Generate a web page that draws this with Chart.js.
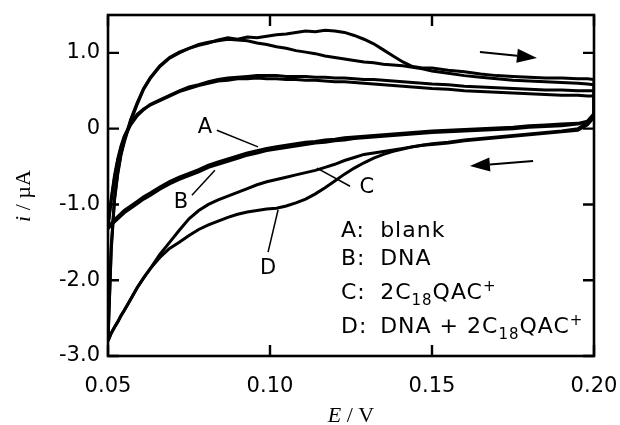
<!DOCTYPE html>
<html>
<head>
<meta charset="utf-8">
<script src="https://cdn.jsdelivr.net/npm/chart.js@4.4.0/dist/chart.umd.min.js"></script>
<style>
  html, body { margin: 0; padding: 0; background: #fff; }
</style>
</head>
<body>
<canvas id="cvChart" width="620" height="425"></canvas>
<script>
// potential grid (V), shared by forward and reverse sweeps
const potential = [0.050, 0.051, 0.052, 0.053, 0.054, 0.055, 0.057, 0.059, 0.061, 0.063,
  0.066, 0.069, 0.072, 0.075, 0.078, 0.081, 0.084, 0.087, 0.090, 0.093,
  0.096, 0.099, 0.102, 0.105, 0.108, 0.111, 0.114, 0.117, 0.120, 0.123,
  0.126, 0.129, 0.132, 0.135, 0.138, 0.141, 0.144, 0.147, 0.150, 0.155,
  0.160, 0.165, 0.170, 0.175, 0.180, 0.185, 0.190, 0.195, 0.198, 0.200];

// current (uA), forward sweep (0.05 -> 0.20)
const blankFwd = [-1.30, -0.95, -0.65, -0.42, -0.25, -0.12, 0.05, 0.17, 0.25, 0.32,
  0.38, 0.44, 0.50, 0.55, 0.58, 0.62, 0.65, 0.67, 0.68, 0.69,
  0.70, 0.70, 0.70, 0.69, 0.69, 0.69, 0.68, 0.68, 0.67, 0.67,
  0.66, 0.65, 0.65, 0.64, 0.63, 0.62, 0.61, 0.60, 0.59, 0.58,
  0.56, 0.55, 0.54, 0.53, 0.52, 0.51, 0.51, 0.50, 0.50, 0.50];
const dnaFwd = [-1.28, -0.92, -0.62, -0.40, -0.23, -0.10, 0.07, 0.19, 0.26, 0.31,
  0.37, 0.43, 0.49, 0.53, 0.57, 0.60, 0.63, 0.64, 0.66, 0.66,
  0.67, 0.66, 0.66, 0.65, 0.65, 0.64, 0.64, 0.63, 0.62, 0.62,
  0.61, 0.60, 0.59, 0.58, 0.57, 0.56, 0.55, 0.54, 0.53, 0.52,
  0.50, 0.49, 0.48, 0.47, 0.46, 0.45, 0.44, 0.44, 0.43, 0.43];
const qacFwd = [-2.78, -1.55, -0.92, -0.58, -0.33, -0.16, 0.12, 0.34, 0.53, 0.67,
  0.83, 0.94, 1.01, 1.06, 1.11, 1.14, 1.16, 1.18, 1.17, 1.16,
  1.13, 1.11, 1.08, 1.06, 1.03, 1.01, 0.99, 0.96, 0.94, 0.92,
  0.90, 0.88, 0.87, 0.85, 0.84, 0.83, 0.81, 0.79, 0.76, 0.73,
  0.70, 0.68, 0.66, 0.64, 0.63, 0.62, 0.61, 0.60, 0.59, 0.58];
const dnaQacFwd = [-2.80, -1.60, -0.95, -0.60, -0.35, -0.18, 0.10, 0.32, 0.52, 0.66,
  0.82, 0.93, 1.00, 1.06, 1.10, 1.13, 1.17, 1.20, 1.18, 1.21,
  1.20, 1.22, 1.24, 1.25, 1.27, 1.29, 1.28, 1.30, 1.29, 1.27,
  1.23, 1.18, 1.12, 1.04, 0.96, 0.88, 0.82, 0.80, 0.80, 0.77,
  0.75, 0.72, 0.70, 0.69, 0.68, 0.67, 0.67, 0.66, 0.66, 0.65];

// current (uA), reverse sweep, listed in the same potential order
const blankRev = [-1.30, -1.25, -1.20, -1.16, -1.12, -1.08, -1.02, -0.96, -0.90, -0.85,
  -0.77, -0.70, -0.64, -0.59, -0.54, -0.48, -0.44, -0.40, -0.36, -0.32,
  -0.29, -0.26, -0.24, -0.22, -0.20, -0.18, -0.17, -0.15, -0.14, -0.12,
  -0.11, -0.10, -0.09, -0.08, -0.07, -0.06, -0.05, -0.04, -0.03, -0.02,
  -0.01, 0.00, 0.01, 0.02, 0.04, 0.05, 0.06, 0.07, 0.10, 0.20];
const dnaRev = [-1.32, -1.27, -1.23, -1.19, -1.15, -1.11, -1.05, -0.99, -0.93, -0.88,
  -0.80, -0.73, -0.67, -0.62, -0.57, -0.51, -0.47, -0.43, -0.39, -0.35,
  -0.32, -0.29, -0.27, -0.25, -0.23, -0.21, -0.19, -0.18, -0.16, -0.15,
  -0.13, -0.12, -0.11, -0.10, -0.09, -0.08, -0.07, -0.06, -0.05, -0.04,
  -0.03, -0.02, -0.01, 0.00, 0.02, 0.03, 0.04, 0.06, 0.09, 0.18];
const qacRev = [-2.80, -2.70, -2.62, -2.55, -2.47, -2.40, -2.25, -2.10, -1.97, -1.85,
  -1.66, -1.50, -1.34, -1.19, -1.08, -1.00, -0.94, -0.89, -0.84, -0.79,
  -0.74, -0.70, -0.67, -0.64, -0.61, -0.58, -0.55, -0.51, -0.47, -0.42,
  -0.38, -0.34, -0.32, -0.30, -0.28, -0.26, -0.24, -0.22, -0.21, -0.19,
  -0.16, -0.14, -0.12, -0.10, -0.08, -0.06, -0.04, -0.02, 0.05, 0.15];
const dnaQacRev = [-2.80, -2.70, -2.62, -2.55, -2.47, -2.40, -2.25, -2.10, -1.97, -1.85,
  -1.70, -1.58, -1.50, -1.41, -1.33, -1.27, -1.22, -1.17, -1.13, -1.10,
  -1.08, -1.06, -1.05, -1.02, -0.98, -0.93, -0.86, -0.78, -0.69, -0.60,
  -0.52, -0.45, -0.39, -0.34, -0.30, -0.27, -0.24, -0.22, -0.20, -0.18,
  -0.15, -0.13, -0.11, -0.09, -0.07, -0.05, -0.03, 0.00, 0.08, 0.18];

const xTicks = [0.05, 0.10, 0.15, 0.20];
const xTickLabels = ['0.05', '0.10', '0.15', '0.20'];
const yTicks = [-3, -2, -1, 0, 1];
const yTickLabels = ['-3.0', '-2.0', '-1.0', '0', '1.0'];

// curve labels A-D with pointer lines (in E / i units)
const curveLetters = ['A', 'B', 'C', 'D'];
const letterAt = [[0.0799, 0.01], [0.0725, -0.98], [0.1299, -0.78], [0.0994, -1.84]];
const pointerFrom = [[0.0836, -0.02], [0.0759, -0.88], [0.1247, -0.76], [0.0994, -1.63]];
const pointerTo = [[0.0963, -0.24], [0.0830, -0.55], [0.1145, -0.52], [0.1025, -1.07]];

// key text
const keyLetters = ['A:', 'B:', 'C:', 'D:'];
const keyNames = [
  [['blank']],
  [['DNA']],
  [['2C'], ['18', 'sub'], ['QAC'], ['+', 'sup']],
  [['DNA + 2C'], ['18', 'sub'], ['QAC'], ['+', 'sup']]
];
const keyRows = [-1.43, -1.80, -2.25, -2.70];

// sweep direction arrows [fromE, fromI, toE, toI]
const sweepArrows = [[0.1648, 1.013, 0.1824, 0.934], [0.1812, -0.427, 0.1617, -0.493]];

function loop(fwd, rev) {
  const pts = potential.map((e, i) => ({ x: e, y: fwd[i] }));
  for (let i = potential.length - 1; i >= 0; i--) pts.push({ x: potential[i], y: rev[i] });
  return pts;
}

function curve(label, fwd, rev) {
  return {
    label: label,
    data: loop(fwd, rev),
    showLine: true,
    borderColor: '#000',
    borderWidth: 3,
    pointRadius: 0,
    tension: 0,
    fill: false
  };
}

const SANS = '"DejaVu Sans", sans-serif';
const SERIF = '"Liberation Serif", serif';

function richText(ctx, x, y, parts, size) {
  parts.forEach(p => {
    const kind = p[1];
    const sz = kind ? Math.round(size * 0.7) : size;
    ctx.font = sz + 'px ' + SANS;
    let dy = 0;
    if (kind === 'sub') dy = size * 0.25;
    if (kind === 'sup') dy = -size * 0.38;
    ctx.fillText(p[0], x, y + dy);
    x += ctx.measureText(p[0]).width;
  });
}

function arrow(ctx, x1, y1, x2, y2) {
  const ang = Math.atan2(y2 - y1, x2 - x1);
  const len = 20, half = 7;
  const bx = x2 - len * Math.cos(ang), by = y2 - len * Math.sin(ang);
  ctx.beginPath();
  ctx.moveTo(x1, y1);
  ctx.lineTo(bx, by);
  ctx.stroke();
  ctx.beginPath();
  ctx.moveTo(x2, y2);
  ctx.lineTo(bx + half * Math.sin(ang), by - half * Math.cos(ang));
  ctx.lineTo(bx - half * Math.sin(ang), by + half * Math.cos(ang));
  ctx.closePath();
  ctx.fill();
}

const decor = {
  id: 'decor',
  afterDraw(chart) {
    const ctx = chart.ctx;
    const a = chart.chartArea;
    const xs = chart.scales.x, ys = chart.scales.y;
    ctx.save();
    ctx.strokeStyle = '#000';
    ctx.fillStyle = '#000';

    // frame
    ctx.lineWidth = 2.6;
    ctx.strokeRect(a.left, a.top, a.right - a.left, a.bottom - a.top);

    // inward ticks on all four sides
    const tl = 11;
    ctx.lineWidth = 2.4;
    ctx.beginPath();
    xTicks.forEach(v => {
      const px = xs.getPixelForValue(v);
      ctx.moveTo(px, a.bottom); ctx.lineTo(px, a.bottom - tl);
      ctx.moveTo(px, a.top); ctx.lineTo(px, a.top + tl);
    });
    yTicks.forEach(v => {
      const py = ys.getPixelForValue(v);
      ctx.moveTo(a.left, py); ctx.lineTo(a.left + tl, py);
      ctx.moveTo(a.right, py); ctx.lineTo(a.right - tl, py);
    });
    ctx.stroke();

    // curve letters and pointers
    ctx.lineWidth = 1.5;
    ctx.font = '21px ' + SANS;
    ctx.textAlign = 'center';
    ctx.textBaseline = 'middle';
    curveLetters.forEach((c, i) => {
      ctx.fillText(c, xs.getPixelForValue(letterAt[i][0]), ys.getPixelForValue(letterAt[i][1]));
      ctx.beginPath();
      ctx.moveTo(xs.getPixelForValue(pointerFrom[i][0]), ys.getPixelForValue(pointerFrom[i][1]));
      ctx.lineTo(xs.getPixelForValue(pointerTo[i][0]), ys.getPixelForValue(pointerTo[i][1]));
      ctx.stroke();
    });

    // key
    ctx.textAlign = 'left';
    ctx.textBaseline = 'alphabetic';
    ctx.letterSpacing = '1px';
    const col1 = xs.getPixelForValue(0.1219), col2 = xs.getPixelForValue(0.1340);
    keyLetters.forEach((k, i) => {
      const y = ys.getPixelForValue(keyRows[i]);
      ctx.font = '22px ' + SANS;
      ctx.fillText(k, col1, y);
      richText(ctx, col2, y, keyNames[i], 22);
    });
    ctx.letterSpacing = '0px';

    // sweep arrows
    ctx.lineWidth = 2;
    sweepArrows.forEach(s => {
      arrow(ctx, xs.getPixelForValue(s[0]), ys.getPixelForValue(s[1]),
        xs.getPixelForValue(s[2]), ys.getPixelForValue(s[3]));
    });

    // axis titles
    ctx.textBaseline = 'alphabetic';
    const cx = (a.left + a.right) / 2;
    ctx.font = 'italic 22px ' + SERIF;
    const wE = ctx.measureText('E').width;
    ctx.font = '22px ' + SERIF;
    const wRest = ctx.measureText(' / V').width;
    let x0 = cx - (wE + wRest) / 2;
    ctx.font = 'italic 22px ' + SERIF;
    ctx.fillText('E', x0, 422);
    ctx.font = '22px ' + SERIF;
    ctx.fillText(' / V', x0 + wE, 422);

    ctx.translate(30, 196);
    ctx.rotate(-Math.PI / 2);
    ctx.font = 'italic 22px ' + SERIF;
    const wi = ctx.measureText('i').width;
    ctx.font = '22px ' + SERIF;
    const wA = ctx.measureText(' / \u00b5A').width;
    x0 = -(wi + wA) / 2;
    ctx.font = 'italic 22px ' + SERIF;
    ctx.fillText('i', x0, 0);
    ctx.font = '22px ' + SERIF;
    ctx.fillText(' / \u00b5A', x0 + wi, 0);
    ctx.restore();
  }
};

new Chart(document.getElementById('cvChart').getContext('2d'), {
  type: 'scatter',
  data: {
    datasets: [
      curve('A: blank', blankFwd, blankRev),
      curve('B: DNA', dnaFwd, dnaRev),
      curve('C: 2C18QAC+', qacFwd, qacRev),
      curve('D: DNA + 2C18QAC+', dnaQacFwd, dnaQacRev)
    ]
  },
  options: {
    responsive: false,
    devicePixelRatio: 1,
    animation: false,
    layout: { padding: { top: 15, right: 26, left: 0, bottom: 0 } },
    plugins: { legend: { display: false }, tooltip: { enabled: false } },
    scales: {
      x: {
        type: 'linear',
        min: 0.05,
        max: 0.20,
        grid: { display: false, drawTicks: false },
        border: { display: false },
        afterBuildTicks: s => { s.ticks = xTicks.map(v => ({ value: v })); },
        afterFit: s => { s.height = 69; s.paddingLeft = 0; s.paddingRight = 0; },
        ticks: {
          callback: (v, i) => xTickLabels[i],
          color: '#000',
          font: { family: SANS, size: 21 },
          padding: 18,
          maxRotation: 0
        }
      },
      y: {
        type: 'linear',
        min: -3.0,
        max: 1.5,
        grid: { display: false, drawTicks: false },
        border: { display: false },
        afterBuildTicks: s => { s.ticks = yTicks.map(v => ({ value: v })); },
        afterFit: s => { s.width = 108; s.paddingTop = 0; s.paddingBottom = 0; },
        ticks: {
          callback: (v, i) => yTickLabels[i],
          color: '#000',
          font: { family: SANS, size: 21 },
          padding: 8
        }
      }
    }
  },
  plugins: [decor]
});
</script>
</body>
</html>
